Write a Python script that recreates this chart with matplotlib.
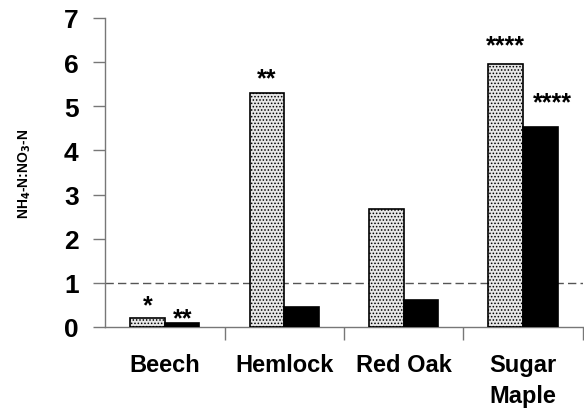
import numpy as np
import matplotlib
matplotlib.use("Agg")
import matplotlib.pyplot as plt

plt.rcParams['font.family'] = ['Liberation Sans', 'DejaVu Sans']
plt.rcParams['font.weight'] = 'bold'
plt.rcParams['hatch.color'] = '#6a6a6a'
plt.rcParams['hatch.linewidth'] = 0.7

species = ["Beech", "Hemlock", "Red Oak", "Sugar\nMaple"]
ratio_stipple = [0.2, 5.3, 2.67, 5.95]
ratio_black = [0.08, 0.45, 0.62, 4.54]
stars_stipple = ["*", "**", "", "****"]
stars_black = ["**", "", "", "****"]
# baseline of each star label, in data units
stars_stipple_y = [0.33, 5.47, 0, 6.22]
stars_black_y = [0.03, 0, 0, 4.92]

fig = plt.figure(figsize=(5.84, 4.10), dpi=100)
ax = fig.add_axes([0.18, 0.2, 0.818, 0.754])

x = np.arange(len(species))
w = 0.29
ax.bar(x - w / 2, ratio_stipple, w, facecolor='#e6e6e6', edgecolor='black',
       linewidth=1.2, hatch='.....', zorder=3)
ax.bar(x + w / 2, ratio_black, w, facecolor='black', edgecolor='black',
       linewidth=1.2, zorder=3)

ax.axhline(1, color='#555555', linestyle=(0, (6, 3)), linewidth=1, zorder=2)

for i in range(len(species)):
    if stars_stipple[i]:
        ax.text(x[i] - w / 2, stars_stipple_y[i], stars_stipple[i], ha='center',
                va='baseline', fontsize=18, fontweight='bold')
    if stars_black[i]:
        ax.text(x[i] + w / 2 + (0.1 if i == 3 else 0), stars_black_y[i], stars_black[i],
                ha='center', va='baseline', fontsize=18, fontweight='bold')

ax.set_xlim(-0.5, 3.5)
ax.set_ylim(0, 7)
ax.set_yticks(range(8))
ax.set_xticks(np.arange(0.5, 4, 1))
ax.set_xticklabels([])
ax.set_xticks(x, minor=True)
ax.set_xticklabels(species, minor=True, fontsize=17, fontweight='bold', linespacing=1.45)
ax.tick_params(axis='x', which='minor', length=0, pad=19)
ax.tick_params(axis='x', which='major', length=9, width=1, color='#777777', direction='out')
ax.tick_params(axis='y', length=9, width=1, color='#777777', pad=10, labelsize=19)
for lab in ax.get_yticklabels():
    lab.set_fontweight('bold')

for s in ['top', 'right']:
    ax.spines[s].set_visible(False)
for s in ['left', 'bottom']:
    ax.spines[s].set_color('#777777')
    ax.spines[s].set_linewidth(1)

ax.set_ylabel(r"NH$_\mathbf{4}$-N:NO$_\mathbf{3}$-N", fontsize=10, fontweight='bold')
ax.yaxis.set_label_coords(-0.152, 0.5)

fig.savefig("out.png", dpi=100)
